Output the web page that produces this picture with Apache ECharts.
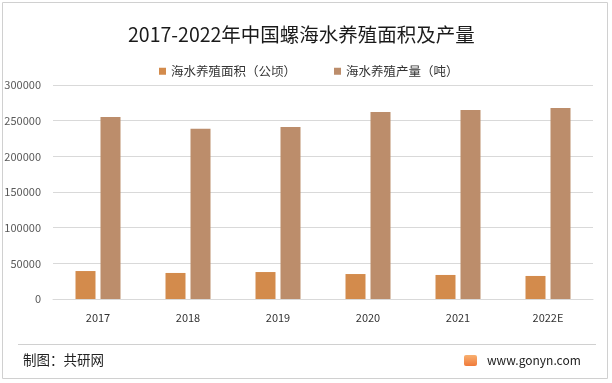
<!DOCTYPE html>
<html><head><meta charset="utf-8">
<script src="https://cdn.jsdelivr.net/npm/echarts@6/dist/echarts.min.js"></script>
<style>html,body{margin:0;padding:0;background:#fff}#c{width:612px;height:383px}</style>
</head><body><div id="c"></div>
<script>
const categories = ['2017','2018','2019','2020','2021','2022E'];
const areaValues = [39200, 36500, 37800, 35000, 33700, 32300];
const outputValues = [255000, 238500, 241000, 262000, 265000, 267800];
const yTicks = [0, 50000, 100000, 150000, 200000, 250000, 300000];
const seriesNames = ['海水养殖面积（公顷）', '海水养殖产量（吨）'];

const chart = echarts.init(document.getElementById('c'));
const font = '"Noto Sans CJK SC", "Noto Sans", sans-serif';
chart.setOption({
  animation: false,
  textStyle: { fontFamily: font },
  title: {
    text: '2017-2022年中国螺海水养殖面积及产量',
    left: 128, top: 25, padding: 0,
    textStyle: { fontSize: 19.5, fontWeight: 'normal', color: '#1a1a1a', fontFamily: font }
  },
  legend: {
    left: 159, top: 65, padding: 0, itemWidth: 7, itemHeight: 7, itemGap: 38,
    icon: 'rect',
    textStyle: { fontSize: 12.5, color: '#333', fontFamily: font },
    data: seriesNames
  },
  grid: { left: 53, right: 19, top: 85, bottom: 84, containLabel: false },
  xAxis: {
    type: 'category', data: categories,
    axisLine: { show: true, lineStyle: { color: '#d9d9d9' } },
    axisTick: { show: false },
    axisLabel: { color: '#333', fontSize: 11, margin: 13 }
  },
  yAxis: {
    type: 'value', min: yTicks[0], max: yTicks[yTicks.length - 1], interval: yTicks[1] - yTicks[0],
    axisLine: { show: false }, axisTick: { show: false },
    axisLabel: { color: '#595959', fontSize: 11, margin: 12, formatter: v => String(v) },
    splitLine: { lineStyle: { color: '#d9d9d9' } }
  },
  series: [
    { name: seriesNames[0], type: 'bar', data: areaValues, barWidth: 20, barGap: '25%',
      itemStyle: { color: '#D38B4C' } },
    { name: seriesNames[1], type: 'bar', data: outputValues, barWidth: 20, barGap: '25%',
      itemStyle: { color: '#BC8D6B' } }
  ],
  graphic: [
    { type: 'rect', shape: { x: 2.5, y: 2.5, width: 605, height: 376 }, style: { fill: 'none', stroke: '#d0d0d0', lineWidth: 1 }, z: -1 },
    { type: 'line', shape: { x1: 18, y1: 344.5, x2: 596, y2: 344.5 }, style: { stroke: '#d0d0d0', lineWidth: 1 } },
    { type: 'text', left: 23, top: 353, style: { text: '制图：共研网', fontSize: 13.5, fill: '#222', fontFamily: font } },
    { type: 'rect', shape: { x: 464, y: 355, width: 13, height: 11, r: 2 }, style: { fill: new echarts.graphic.LinearGradient(0,0,0,1,[{offset:0,color:'#f8b070'},{offset:1,color:'#f07a3a'}]) } },
    { type: 'text', left: 487, top: 354, style: { text: 'www.gonyn.com', fontSize: 12, fill: '#222', fontFamily: font } }
  ]
});
</script></body></html>
